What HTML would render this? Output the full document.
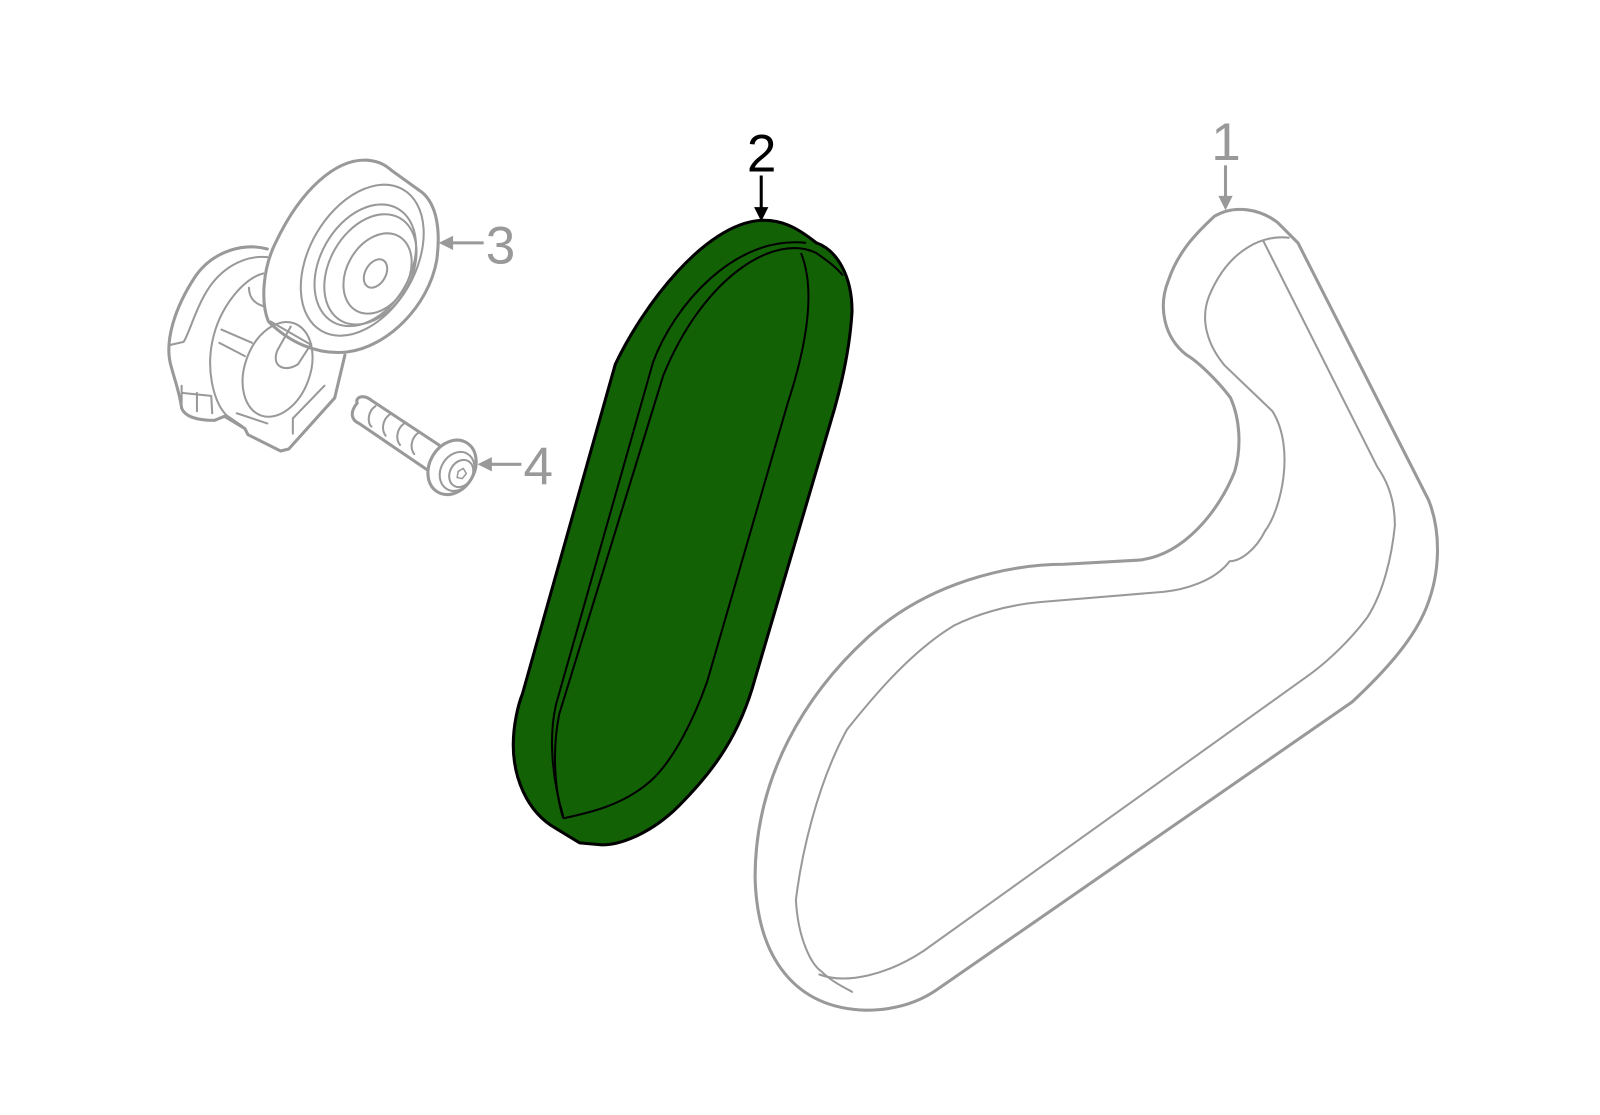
<!DOCTYPE html>
<html><head><meta charset="utf-8"><style>html,body{margin:0;padding:0;background:#fff}svg{display:block}</style></head>
<body>
<svg width="1600" height="1115" viewBox="0 0 1600 1115" xmlns="http://www.w3.org/2000/svg">
<g transform="scale(1.0204)">
<g fill="none" stroke="#999" stroke-linejoin="round" stroke-linecap="round">
<path stroke-width="3" d="M1190,212 C1210,200 1235,205 1252,218 L1272,238 L1400,490 C1412,520 1412,560 1398,595 C1385,628 1355,660 1325,688 L918,970 C895,986 870,990 848,990 C780,988 742,940 740,860 C740,760 790,680 850,625 C910,570 990,553 1043,553 L1115,549 C1160,545 1195,500 1210,462 C1217,438 1215,410 1206,390 C1195,375 1175,355 1163,348 C1140,330 1135,300 1145,275 C1155,245 1175,226 1190,212 Z"/>
<path stroke-width="2" d="M1263,233 C1240,230 1205,242 1185,290 C1175,315 1185,340 1200,358 L1247,403 C1270,440 1255,500 1240,520 C1230,540 1215,550 1205,550 C1190,570 1160,578 1140,580 L1020,590 C985,593 955,603 935,613 C890,640 850,690 830,715 C800,770 785,840 780,882 C782,920 795,945 805,952 C815,962 828,968 835,972"/>
<path stroke-width="2" d="M803,955 C830,965 870,955 905,932 L1285,660 C1305,645 1325,625 1340,605 C1356,580 1364,545 1367,515 C1367,495 1362,475 1350,458 L1238,236"/>
<path stroke-width="3" d="M262,244 C240,238 210,245 192,270 C172,300 160,335 168,360 C172,375 176,385 178,400 C182,410 198,412 210,412 L220,408 L240,420 L243,426 L275,442 L283,440 L328,390 L338,348"/>
<path stroke-width="2" d="M262,252 C240,250 215,262 200,290 C190,308 186,325 180,335 L167,338"/>
<path stroke-width="2" d="M178,378 L178,395 M193,385 L193,403 M207,388 L208,405 M178,385 L207,388"/>
<path stroke-width="2" d="M258,268 C240,272 215,300 208,335 C202,365 210,395 222,407 L238,418"/>
<path stroke-width="2" d="M244,282 C244,290 248,297 258,300"/>
<path stroke-width="2" d="M217,323 L247,336 M215,336 L240,349 M232,405 L262,415 M287,425 L287,410 L318,378"/>
<ellipse stroke-width="2" cx="272" cy="362" rx="32" ry="48" transform="rotate(20 272 362)"/>
<path stroke-width="2" d="M285,320 L272,343 C265,360 280,365 292,357 L305,337"/>
<path stroke-width="3" d="M270,238 C295,185 330,155 360,157 C372,158 378,162 385,168 L413,188 C428,200 432,225 428,255 C420,300 380,340 340,345 C310,348 283,335 263,315 C255,295 258,262 270,238 Z"/>
<path stroke-width="2" d="M265,315 L305,338"/>
<ellipse stroke-width="2" cx="355" cy="255" rx="52" ry="80" transform="rotate(30 355 255)"/>
<ellipse stroke-width="2" cx="358" cy="260" rx="44" ry="64" transform="rotate(30 358 260)"/>
<ellipse stroke-width="2" cx="363" cy="264" rx="40" ry="58" transform="rotate(30 363 264)"/>
<ellipse stroke-width="2" cx="370" cy="268" rx="30" ry="42" transform="rotate(30 370 268)"/>
<ellipse stroke-width="2" cx="368" cy="268" rx="10" ry="15" transform="rotate(30 368 268)"/>
<path stroke-width="3" d="M365,393 L430,436 M350,395 C342,405 345,412 352,415 L418,460 M365,393 C355,385 348,390 350,395"/>
<path stroke-width="2" d="M368,398 C360,403 360,415 364,418 M382,406 C374,412 374,422 378,427 M396,415 C388,421 388,431 392,436 M410,424 C402,430 402,440 406,445"/>
<ellipse stroke-width="3" cx="443" cy="458" rx="22" ry="28" transform="rotate(30 443 458)"/>
<ellipse stroke-width="2" cx="448" cy="462" rx="16" ry="20" transform="rotate(30 448 462)"/>
<ellipse stroke-width="2" cx="452" cy="464" rx="11" ry="14" transform="rotate(30 452 464)"/>
<path stroke-width="1.5" d="M449,462 L454,459 L457,464 L453,469 L448,468 Z"/>
</g>
<path fill="#126205" stroke="#000" stroke-width="3" stroke-linejoin="round" d="M603,357 C630,300 690,220 745,216 C765,215 780,222 800,238 C820,245 835,270 835,305 C833,340 825,375 818,400 L740,665 C725,720 700,755 665,790 C640,815 610,828 590,828 L568,826 L545,812 C515,795 503,760 503,730 C503,710 508,690 512,680 Z"/>
<g fill="none" stroke="#000" stroke-width="2">
<path d="M552,800 C540,760 538,720 545,690 L640,355 C660,300 720,230 790,238"/>
<path d="M552,802 C545,780 540,740 548,700 L650,368 C690,270 760,228 800,248 C810,255 820,262 826,270"/>
<path d="M785,248 C800,285 790,340 772,395 L693,668 C680,705 660,745 638,765 C610,790 575,797 552,802"/>
</g>
<g stroke="#999" stroke-width="3" fill="#999">
<line x1="1201" y1="162" x2="1201" y2="198"/><path d="M1194,192 L1201,206 L1208,192 Z" stroke="none"/>
<line x1="474" y1="238" x2="440" y2="238"/><path d="M444,231 L430,238 L444,245 Z" stroke="none"/>
<line x1="511" y1="455" x2="478" y2="455"/><path d="M482,448 L468,455 L482,462 Z" stroke="none"/>
</g>
<g stroke="#000" stroke-width="3" fill="#000">
<line x1="746" y1="172" x2="746" y2="208"/><path d="M739,203 L746,217 L753,203 Z" stroke="none"/>
</g>
<g font-family="Liberation Sans, sans-serif" font-size="52" fill="#999">
<text x="1187" y="157">1</text>
<text x="476" y="258">3</text>
<text x="513" y="475">4</text>
</g>
<text x="732" y="168" font-family="Liberation Sans, sans-serif" font-size="52" fill="#000">2</text>
</g>
</svg>
</body></html>
